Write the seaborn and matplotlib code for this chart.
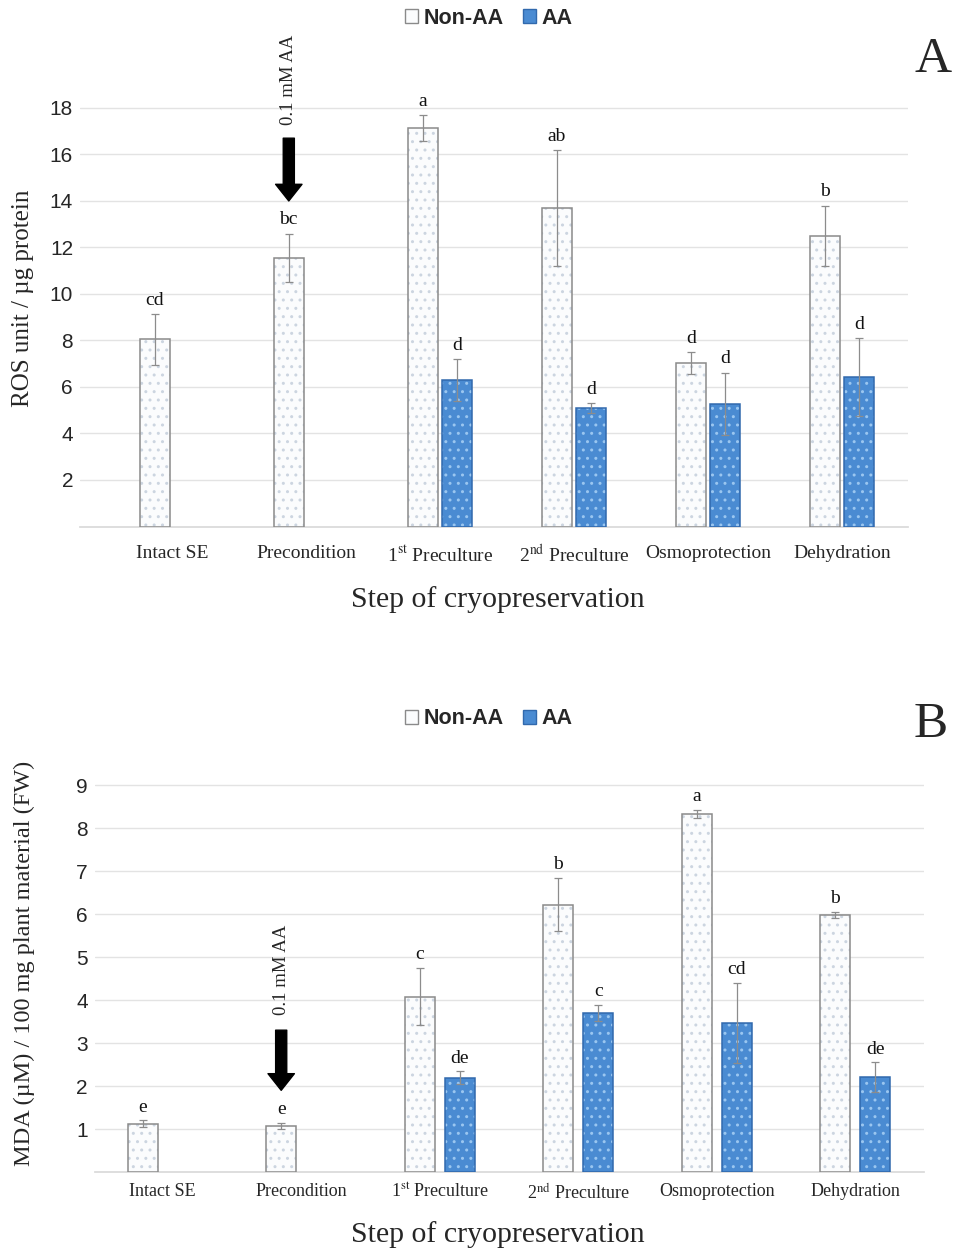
import numpy as np
import pandas as pd
import matplotlib
matplotlib.use("Agg")
import matplotlib.pyplot as plt
from matplotlib.patches import Rectangle, Patch
import seaborn as sns

# ---------------- data ----------------
categories = ["Intact SE", "Precondition", "1st Preculture", "2nd Preculture",
              "Osmoprotection", "Dehydration"]
tick_labels = ["Intact SE", "Precondition", r"1$^{\mathrm{st}}$ Preculture",
               r"2$^{\mathrm{nd}}$ Preculture", "Osmoprotection", "Dehydration"]
groups = ["Non-AA", "AA"]

ros_nonaa = [8.05, 11.55, 17.15, 13.7, 7.03, 12.5]
ros_nonaa_err = [1.1, 1.05, 0.55, 2.5, 0.48, 1.3]
ros_aa = [np.nan, np.nan, 6.3, 5.1, 5.27, 6.43]
ros_aa_err = [np.nan, np.nan, 0.9, 0.2, 1.35, 1.68]
ros_nonaa_lett = ["cd", "bc", "a", "ab", "d", "b"]
ros_aa_lett = ["", "", "d", "d", "d", "d"]

mda_nonaa = [1.12, 1.07, 4.08, 6.22, 8.33, 5.98]
mda_nonaa_err = [0.08, 0.07, 0.66, 0.62, 0.1, 0.08]
mda_aa = [np.nan, np.nan, 2.19, 3.7, 3.47, 2.21]
mda_aa_err = [np.nan, np.nan, 0.15, 0.18, 0.93, 0.34]
mda_nonaa_lett = ["e", "e", "c", "b", "a", "b"]
mda_aa_lett = ["", "", "de", "c", "cd", "de"]

# ---------------- style ----------------
sns.set_theme(style="white")
plt.rcParams["font.family"] = ["Liberation Serif", "DejaVu Serif"]
plt.rcParams["mathtext.fontset"] = "stix"
plt.rcParams["hatch.linewidth"] = 1.0

BLUE = "#4a8bd2"
BLUE_EDGE = "#3169ad"
BLUE_DOT = "#9ac6f0"
WHITE_FILL = "#fbfcfd"
WHITE_DOT = "#ccd5e0"
GRAY_EDGE = "#8a8a8a"
fills = {"Non-AA": WHITE_FILL, "AA": BLUE}
dots = {"Non-AA": WHITE_DOT, "AA": BLUE_DOT}
edges = {"Non-AA": GRAY_EDGE, "AA": BLUE_EDGE}

fig = plt.figure(figsize=(9.58, 12.51), dpi=100)


def make_df(nonaa, aa):
    rows = []
    for c, v in zip(categories, nonaa):
        rows.append({"step": c, "group": "Non-AA", "value": v})
    for c, v in zip(categories, aa):
        rows.append({"step": c, "group": "AA", "value": v})
    return pd.DataFrame(rows).dropna()


def panel(rect, nonaa, nonaa_err, aa, aa_err, l_non, l_aa, ylim, yticks, xlim,
          width, gap, ylabel, ylab_fs, ylab_xy, xlab_y, xt_fs, pad, arrow,
          legend_y, letter, letter_pos):
    ax = fig.add_axes(rect)
    df = make_df(nonaa, aa)
    sns.barplot(data=df, x="step", y="value", hue="group", order=categories,
                hue_order=groups, palette=fills, width=width, gap=gap,
                errorbar=None, legend=False, ax=ax, zorder=3)
    vals = {"Non-AA": (nonaa, nonaa_err, l_non), "AA": (aa, aa_err, l_aa)}
    precond_x = None
    for g, cont in zip(groups, ax.containers):
        v, e, lt = vals[g]
        for p in cont.patches:
            xc = p.get_x() + p.get_width() / 2
            i = int(round(xc))
            p.set_facecolor(fills[g])
            p.set_edgecolor(dots[g])
            p.set_linewidth(0)
            p.set_hatch("..")
            ax.add_patch(Rectangle((p.get_x(), p.get_y()), p.get_width(),
                                   p.get_height(), fill=False,
                                   edgecolor=edges[g], lw=1.1, zorder=4))
            ax.errorbar(xc, v[i], yerr=e[i], color="#8c8c8c", lw=0.9,
                        capsize=3, capthick=0.9, zorder=5)
            ax.text(xc, v[i] + e[i] + ylim[1] * 0.012, lt[i], ha="center",
                    va="bottom", fontsize=14, color="#111111", zorder=6)
            if g == "Non-AA" and i == 1:
                precond_x = xc
    ax.set_ylim(*ylim)
    ax.set_xlim(*xlim)
    ax.set_yticks(yticks)
    ax.set_yticklabels([str(t) for t in yticks], family="Liberation Sans",
                       fontsize=15)
    ax.set_xticks(range(len(categories)))
    ax.set_xticklabels(tick_labels, fontsize=xt_fs)
    ax.tick_params(axis="x", length=0, pad=pad)
    ax.tick_params(axis="y", length=0, pad=5)
    ax.yaxis.grid(True, color="#e3e3e3", lw=1, zorder=0)
    ax.set_axisbelow(True)
    for s in ["top", "right", "left"]:
        ax.spines[s].set_visible(False)
    ax.spines["bottom"].set_color("#d9d9d9")
    ax.set_ylabel(ylabel, fontsize=ylab_fs)
    ax.yaxis.set_label_coords(*ylab_xy)
    ax.set_xlabel("")
    fig.text(0.52, xlab_y, "Step of cryopreservation", ha="center",
             va="center", fontsize=21.5)
    # arrow annotation
    (t_y, a_top, a_bot) = arrow
    ax.text(precond_x, t_y, "0.1 mM AA", rotation=90, ha="center",
            va="center", fontsize=13.5, clip_on=False)
    ax.annotate("", xy=(precond_x, a_bot), xytext=(precond_x, a_top),
                arrowprops=dict(facecolor="black", edgecolor="black",
                                width=8, headwidth=19, headlength=12),
                annotation_clip=False)
    # legend
    handles = [Patch(facecolor=WHITE_FILL, edgecolor=GRAY_EDGE, lw=1),
               Patch(facecolor=BLUE, edgecolor=BLUE_EDGE, lw=1)]
    fig.legend(handles, groups, loc="center", bbox_to_anchor=(0.51, legend_y),
               ncol=2, frameon=False, handlelength=0.6, handleheight=0.6,
               handletextpad=0.25, columnspacing=0.9,
               prop={"family": "Liberation Sans", "weight": "bold",
                     "size": 15.5})
    fig.text(letter_pos[0], letter_pos[1], letter, fontsize=37,
             ha="center", va="center")
    return ax


# Panel A
panel(rect=[0.0835, 1 - 526.5 / 1251, 0.864, (526.5 - 94) / 1251],
      nonaa=ros_nonaa, nonaa_err=ros_nonaa_err, aa=ros_aa, aa_err=ros_aa_err,
      l_non=ros_nonaa_lett, l_aa=ros_aa_lett, ylim=(0, 18.6),
      yticks=list(range(2, 19, 2)), xlim=(-0.687, 5.49), width=0.515,
      gap=0.13, ylabel="ROS unit / µg protein", ylab_fs=18,
      ylab_xy=(-0.056, 0.528), xlab_y=1 - 600 / 1251, xt_fs=14,
      pad=13, arrow=(19.2, 16.7, 14.0), legend_y=1 - 18 / 1251,
      letter="A", letter_pos=(0.974, 1 - 60 / 1251))

# Panel B
panel(rect=[0.099, 1 - 1172 / 1251, 0.866, (1172 - 768) / 1251],
      nonaa=mda_nonaa, nonaa_err=mda_nonaa_err, aa=mda_aa, aa_err=mda_aa_err,
      l_non=mda_nonaa_lett, l_aa=mda_aa_lett, ylim=(0, 9.4),
      yticks=list(range(1, 10)), xlim=(-0.49, 5.5), width=0.578,
      gap=0.25, ylabel="MDA (µM) / 100 mg plant material (FW)", ylab_fs=17.5,
      ylab_xy=(-0.072, 0.517), xlab_y=1 - 1235 / 1251, xt_fs=13,
      pad=8, arrow=(4.7, 3.3, 1.9), legend_y=1 - 719 / 1251,
      letter="B", letter_pos=(0.972, 1 - 725 / 1251))

fig.savefig("out.png", dpi=100)
